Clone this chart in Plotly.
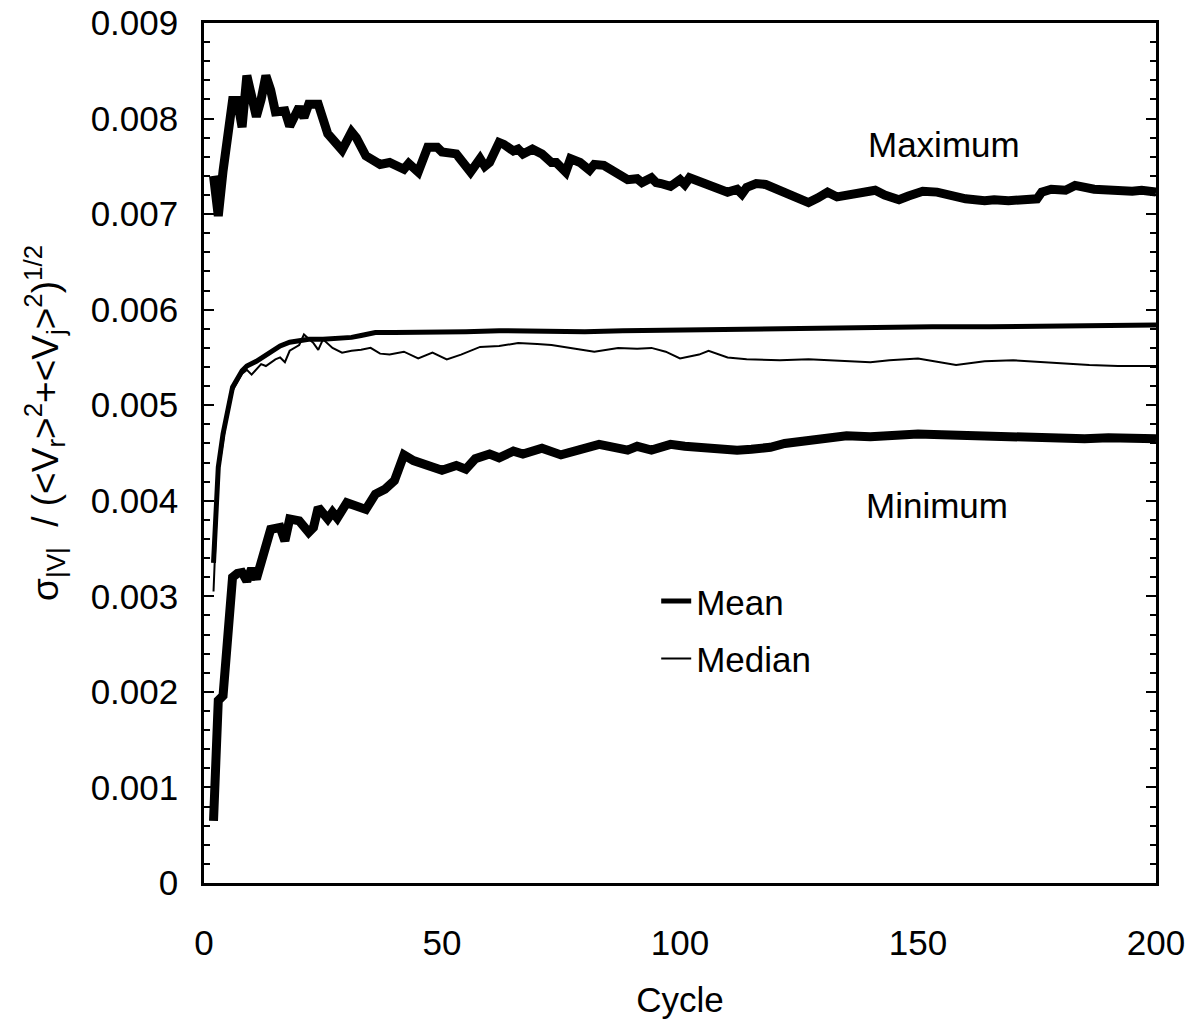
import numpy as np
import plotly.graph_objects as go

# Normalised velocity-magnitude spread vs. cycle (values in units of 1e-3)
max_cycle = [2, 3, 4, 6, 7, 8, 9, 10, 11, 12, 13, 14, 15, 17, 18, 20, 21, 22, 24, 26,
             29, 31, 32, 34, 37, 39, 42, 43, 45, 47, 49, 50, 53, 56, 58, 59, 60, 62, 63, 65,
             66, 67, 69, 71, 73, 74, 76, 77, 79, 81, 82, 84, 86, 88, 89, 91, 92, 94, 95, 96,
             98, 100, 101, 102, 104, 106, 108, 110, 112, 113, 114, 116, 118, 119, 122, 124,
             126, 127, 129, 131, 133, 136, 138, 141, 143, 146, 148, 151, 154, 157, 160, 164,
             166, 169, 173, 175, 176, 178, 181, 183, 187, 190, 194, 195, 197, 200]
max_value = [7.40, 6.98, 7.45, 8.19, 8.19, 7.91, 8.45, 8.20, 8.02, 8.20, 8.45, 8.30, 8.07,
             8.08, 7.92, 8.12, 8.01, 8.15, 8.15, 7.84, 7.67, 7.86, 7.80, 7.61, 7.52, 7.54,
             7.47, 7.53, 7.44, 7.70, 7.70, 7.65, 7.63, 7.44, 7.58, 7.50, 7.54, 7.75, 7.73,
             7.66, 7.68, 7.63, 7.68, 7.63, 7.54, 7.54, 7.44, 7.58, 7.54, 7.46, 7.52, 7.51,
             7.44, 7.37, 7.36, 7.37, 7.33, 7.38, 7.33, 7.32, 7.29, 7.36, 7.31, 7.38, 7.34,
             7.31, 7.25, 7.23, 7.26, 7.21, 7.28, 7.32, 7.31, 7.29, 7.23, 7.18, 7.16, 7.12,
             7.17, 7.23, 7.18, 7.21, 7.23, 7.25, 7.20, 7.15, 7.19, 7.24, 7.23, 7.19, 7.16,
             7.14, 7.15, 7.14, 7.16, 7.16, 7.23, 7.26, 7.25, 7.30, 7.26, 7.25, 7.23, 7.24,
             7.25, 7.23]

min_cycle = [2, 3, 4, 6, 7, 8, 9, 10, 11, 13, 14, 16, 17, 18, 20, 22, 23, 24, 26, 27,
             28, 30, 32, 34, 36, 38, 40, 41, 42, 44, 47, 49, 50, 53, 55, 57, 60, 62, 65, 67,
             71, 75, 80, 83, 89, 91, 94, 98, 101, 106, 112, 115, 119, 122, 126, 131, 135,
             140, 145, 150, 155, 160, 165, 170, 175, 180, 185, 190, 195, 200]
min_value = [0.65, 1.91, 1.96, 3.20, 3.24, 3.25, 3.16, 3.29, 3.18, 3.58, 3.70, 3.72, 3.58,
             3.81, 3.79, 3.67, 3.72, 3.93, 3.81, 3.88, 3.82, 3.98, 3.95, 3.91, 4.07, 4.12,
             4.21, 4.35, 4.48, 4.42, 4.38, 4.33, 4.32, 4.37, 4.33, 4.44, 4.49, 4.45, 4.52,
             4.49, 4.55, 4.48, 4.55, 4.59, 4.53, 4.57, 4.53, 4.59, 4.57, 4.55, 4.53, 4.54,
             4.56, 4.60, 4.63, 4.66, 4.68, 4.67, 4.69, 4.70, 4.69, 4.68, 4.67, 4.67, 4.66,
             4.66, 4.65, 4.66, 4.65, 4.65]

mean_cycle = [2, 3, 4, 5, 6, 8, 9, 11, 14, 16, 18, 20, 22, 25, 29, 31, 33, 35, 36, 40,
              45, 49, 55, 62, 70, 80, 88, 101, 115, 127, 140, 153, 165, 179, 190, 200]
mean_value = [3.35, 4.35, 4.70, 4.98, 5.19, 5.36, 5.41, 5.46, 5.55, 5.62, 5.66, 5.68, 5.69,
              5.69, 5.70, 5.71, 5.73, 5.75, 5.76, 5.76, 5.76, 5.77, 5.77, 5.78, 5.77, 5.77,
              5.78, 5.79, 5.80, 5.81, 5.81, 5.82, 5.82, 5.83, 5.84, 5.84]

median_cycle = [2, 3, 4, 5, 6, 8, 9, 10, 12, 13, 15, 16, 17, 18, 20, 21, 23, 24, 25, 27,
                29, 31, 33, 35, 37, 39, 42, 45, 48, 51, 54, 58, 62, 66, 70, 73, 78, 82, 87,
                91, 94, 97, 100, 104, 106, 110, 114, 121, 127, 134, 140, 144, 150, 158, 164,
                170, 179, 186, 192, 200]
median_value = [3.05, 4.30, 4.62, 4.95, 5.15, 5.33, 5.37, 5.32, 5.43, 5.41, 5.48, 5.50, 5.45,
                5.57, 5.63, 5.74, 5.65, 5.58, 5.69, 5.60, 5.55, 5.57, 5.58, 5.60, 5.54, 5.53,
                5.56, 5.49, 5.55, 5.48, 5.53, 5.61, 5.62, 5.65, 5.64, 5.63, 5.59, 5.56, 5.60,
                5.59, 5.60, 5.56, 5.49, 5.53, 5.57, 5.50, 5.48, 5.47, 5.48, 5.46, 5.45, 5.47,
                5.49, 5.42, 5.46, 5.47, 5.44, 5.42, 5.41, 5.41]

y_tick_values = [0, 0.001, 0.002, 0.003, 0.004, 0.005, 0.006, 0.007, 0.008, 0.009]
y_tick_labels = ["0", "0.001", "0.002", "0.003", "0.004", "0.005", "0.006", "0.007",
                 "0.008", "0.009"]
x_tick_values = [0, 50, 100, 150, 200]

SCALE = 1e-3
FONT = "Liberation Sans, Arial, Helvetica, sans-serif"
FS = 35

fig = go.Figure()

fig.add_trace(go.Scatter(x=max_cycle, y=np.array(max_value) * SCALE, mode="lines",
                         line=dict(color="black", width=9), showlegend=False,
                         name="Maximum"))
fig.add_trace(go.Scatter(x=min_cycle, y=np.array(min_value) * SCALE, mode="lines",
                         line=dict(color="black", width=9), showlegend=False,
                         name="Minimum"))
fig.add_trace(go.Scatter(x=mean_cycle, y=np.array(mean_value) * SCALE, mode="lines",
                         line=dict(color="black", width=5), name="Mean",
                         legendgroup="a"))
fig.add_trace(go.Scatter(x=median_cycle, y=np.array(median_value) * SCALE, mode="lines",
                         line=dict(color="black", width=2), name="Median",
                         legendgroup="b"))

fig.update_layout(
    width=1201, height=1024,
    margin=dict(l=204, r=45, t=23, b=141),
    paper_bgcolor="white", plot_bgcolor="white",
    font=dict(family=FONT, size=FS, color="black"),
    legend=dict(x=0.475, y=0.362, xanchor="left", yanchor="top",
                bgcolor="rgba(0,0,0,0)", font=dict(size=FS),
                traceorder="grouped", tracegroupgap=9, itemwidth=30),
    xaxis=dict(range=[0, 200], tickvals=x_tick_values, ticks="", showgrid=False,
               zeroline=False, showline=True, linecolor="black", linewidth=2.5,
               mirror=True, ticklabelstandoff=27, automargin=False,
               title=dict(text="Cycle", standoff=27, font=dict(size=FS))),
    yaxis=dict(range=[0, 0.009], tickvals=y_tick_values, ticktext=y_tick_labels,
               ticks="inside", ticklen=10, tickwidth=2, tickcolor="black",
               minor=dict(ticks="inside", ticklen=6, tickwidth=1.5, dtick=0.0002,
                          tickcolor="black"),
               showgrid=False, zeroline=False, showline=True, linecolor="black",
               linewidth=2.5, mirror="ticks", ticklabelstandoff=16, automargin=False),
)

fig.add_annotation(
    text="σ<sub>|V|</sub>  / (&lt;V<sub>r</sub>&gt;<sup>2</sup>+&lt;V<sub>j</sub>&gt;<sup>2</sup>)<sup>1/2</sup>",
    xref="paper", yref="paper", x=(45 - 204) / 952, y=0.535, textangle=-90,
    showarrow=False, xanchor="center", yanchor="middle", font=dict(size=37))
fig.add_annotation(text="Maximum", xref="x", yref="y", x=155.5, y=0.00773,
                   showarrow=False, font=dict(size=FS))
fig.add_annotation(text="Minimum", xref="x", yref="y", x=154, y=0.00395,
                   showarrow=False, font=dict(size=FS))

fig.write_html("out.html")
